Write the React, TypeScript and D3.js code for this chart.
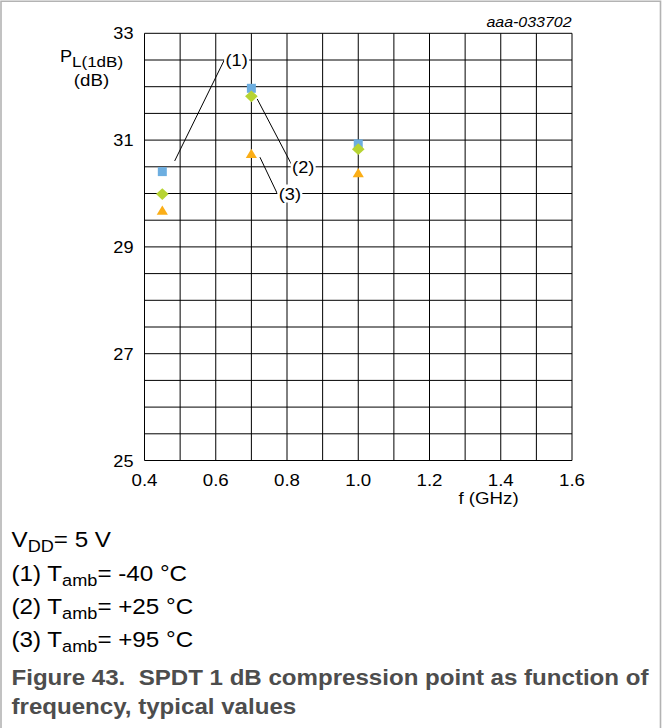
import React from "react";
import * as d3 from "d3";

const freqs = [0.45, 0.7, 1.0];
const pMinus40 = [30.41, 31.97, 30.93];
const p25 = [29.99, 31.82, 30.83];
const p95 = [29.69, 30.75, 30.39];

const xTickValues = [0.4, 0.6, 0.8, 1.0, 1.2, 1.4, 1.6];
const yTickValues = [25, 27, 29, 31, 33];

const callouts = [
  { label: "(1)", from: [0.4847, 30.61], to: [0.624, 32.5], at: [0.6586, 32.5] },
  { label: "(2)", from: [0.7164, 31.77], to: [0.8146, 30.52], at: [0.8454, 30.5] },
  { label: "(3)", from: [0.724, 30.68], to: [0.7725, 30.0], at: [0.808, 30.0] },
];

const legendLines = [
  { pre: "V", sub: "DD", post: "= 5 V" },
  { pre: "(1) T", sub: "amb", post: "= -40 °C" },
  { pre: "(2) T", sub: "amb", post: "= +25 °C" },
  { pre: "(3) T", sub: "amb", post: "= +95 °C" },
];

const captionLines = [
  "Figure 43.\u00a0 SPDT 1 dB compression point as function of",
  "frequency, typical values",
];

const W = 662;
const H = 728;
const FONT = "'Liberation Sans', Arial, sans-serif";
const SX = 1.1;

export default function App() {
  const x = d3.scaleLinear().domain([0.4, 1.6]).range([144.5, 572]);
  const y = d3.scaleLinear().domain([25, 33]).range([460.5, 33.3]);
  const xGrid = d3.range(0, 13).map((i) => 0.4 + i * 0.1);
  const yGrid = d3.range(0, 17).map((i) => 25 + i * 0.5);

  const square = (cx: number, cy: number) => {
    const h = 4.5;
    return `M${cx - h},${cy - h}H${cx + h}V${cy + h}H${cx - h}Z`;
  };
  const diamond = (cx: number, cy: number) => {
    const w = 6.3, h = 5.9;
    return `M${cx},${cy - h}L${cx + w},${cy}L${cx},${cy + h}L${cx - w},${cy}Z`;
  };
  const triangle = (cx: number, cy: number) => {
    const w = 5.6, h = 4.6;
    return `M${cx},${cy - h}L${cx + w},${cy + h}L${cx - w},${cy + h}Z`;
  };

  const T = (props: any) => {
    const { x: tx, y: ty, anchor = "start", size = 16, weight = "normal", italic = false, fill = "#000", children } = props;
    return (
      <text
        transform={`translate(${tx},${ty}) scale(${SX},1)`}
        textAnchor={anchor}
        fontSize={size}
        fontWeight={weight}
        fontStyle={italic ? "italic" : "normal"}
        fill={fill}
        fontFamily={FONT}
      >
        {children}
      </text>
    );
  };

  return (
    <svg
      width={W}
      height={H}
      viewBox={`0 0 ${W} ${H}`}
      style={{ position: "absolute", left: 0, top: 0, background: "#fff" }}
    >
      <rect x={0} y={0} width={W} height={H} fill="#fff" />
      <path d={`M1,${H} V1.2 H660.5 V${H}`} fill="none" stroke="#b3b3b3" strokeWidth={1.6} />

      {/* grid */}
      <g stroke="#000" strokeWidth={1}>
        {xGrid.map((v, i) => (
          <line key={"vx" + i} x1={x(v)} x2={x(v)} y1={y(25)} y2={y(33)} />
        ))}
        {yGrid.map((v, i) => (
          <line key={"hy" + i} x1={x(0.4)} x2={x(1.6)} y1={y(v)} y2={y(v)} />
        ))}
      </g>

      {/* y tick labels */}
      {yTickValues.map((v) => (
        <T key={"yt" + v} x={133.5} y={y(v) + 6} anchor="end" size={16.5}>
          {String(v)}
        </T>
      ))}
      {/* x tick labels */}
      {xTickValues.map((v) => (
        <T key={"xt" + v} x={x(v)} y={486} anchor="middle" size={17}>
          {v.toFixed(1)}
        </T>
      ))}
      <T x={488.5} y={504} anchor="middle" size={17}>f (GHz)</T>

      {/* y title */}
      <T x={91.5} y={62} anchor="middle" size={16.5}>
        P<tspan fontSize={15.5} dy={5}>L(1dB)</tspan>
      </T>
      <T x={91.5} y={86} anchor="middle" size={17}>(dB)</T>

      <T x={571.5} y={26.5} anchor="end" size={14.5} italic>aaa-033702</T>

      {/* callouts */}
      {callouts.map((c) => (
        <g key={c.label}>
          <line
            x1={x(c.from[0])}
            y1={y(c.from[1])}
            x2={x(c.to[0])}
            y2={y(c.to[1])}
            stroke="#000"
            strokeWidth={1}
          />
          <rect x={x(c.at[0]) - 12.5} y={y(c.at[1]) - 9} width={25} height={18} fill="#fff" />
          <T x={x(c.at[0])} y={y(c.at[1]) + 6} anchor="middle" size={16.5}>
            {c.label}
          </T>
        </g>
      ))}

      {/* markers */}
      {freqs.map((f, i) => (
        <path key={"sq" + i} d={square(x(f), y(pMinus40[i]))} fill="#6daee0" />
      ))}
      {freqs.map((f, i) => (
        <path key={"di" + i} d={diamond(x(f), y(p25[i]))} fill="#b7d433" />
      ))}
      {freqs.map((f, i) => (
        <path key={"tr" + i} d={triangle(x(f), y(p95[i]))} fill="#fbae17" />
      ))}

      {/* legend */}
      {legendLines.map((l, i) => (
        <T key={"lg" + i} x={11.5} y={[547, 580.5, 613.5, 646.5][i]} size={22}>
          {l.pre}
          <tspan fontSize={16.5} dy={5}>{l.sub}</tspan>
          <tspan dy={-5}>{l.post}</tspan>
        </T>
      ))}

      {/* caption */}
      {captionLines.map((c, i) => (
        <T key={"cap" + i} x={11.5} y={685 + i * 28.5} size={21.9} weight="bold" fill="#4d4d4d">
          {c}
        </T>
      ))}
    </svg>
  );
}
